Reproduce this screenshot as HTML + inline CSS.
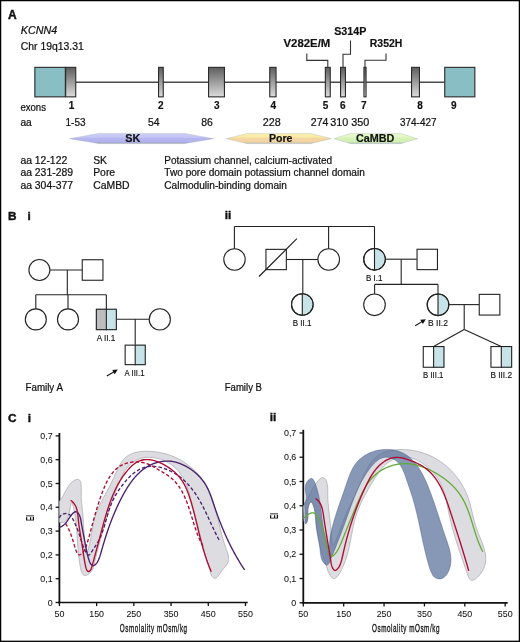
<!DOCTYPE html><html><head><meta charset="utf-8"><style>html,body{margin:0;padding:0;background:#fff;}body{position:relative;width:520px;height:642px;overflow:hidden;}svg{display:block;}</style></head><body>
<svg width="520" height="642" viewBox="0 0 520 642" font-family='"Liberation Sans", sans-serif'>
<defs><linearGradient id="gx" x1="0" y1="0" x2="0" y2="1"><stop offset="0" stop-color="#5e5e5e"/><stop offset="1" stop-color="#dcdcdc"/></linearGradient><linearGradient id="gsk" x1="0" y1="0" x2="0" y2="1"><stop offset="0" stop-color="#cbcbf7"/><stop offset="0.38" stop-color="#c6c6f6"/><stop offset="0.45" stop-color="#b6b6f0"/><stop offset="0.85" stop-color="#b2b2ee"/><stop offset="1" stop-color="#8e98ac"/></linearGradient><linearGradient id="gpo" x1="0" y1="0" x2="0" y2="1"><stop offset="0" stop-color="#f9efb0"/><stop offset="0.38" stop-color="#f9eaa6"/><stop offset="0.45" stop-color="#f4d8a4"/><stop offset="0.85" stop-color="#f2d2a2"/><stop offset="1" stop-color="#aab0b0"/></linearGradient><linearGradient id="gca" x1="0" y1="0" x2="0" y2="1"><stop offset="0" stop-color="#e6f8cc"/><stop offset="0.38" stop-color="#e2f7c4"/><stop offset="0.45" stop-color="#d6f2b8"/><stop offset="0.85" stop-color="#d2f0b4"/><stop offset="1" stop-color="#9aaab0"/></linearGradient></defs>
<rect x="0" y="0" width="520" height="642" fill="#fff"/>
<rect x="0.6" y="0.6" width="518.8" height="640.7" fill="none" stroke="#000" stroke-width="1.3"/>
<line x1="76" y1="82.2" x2="444.5" y2="82.2" stroke="#4a4a4a" stroke-width="1.35"/>
<rect x="34.85" y="67.35" width="30.5" height="29.5" fill="#88bec4" stroke="#2a2a2a" stroke-width="1.1"/>
<rect x="65.65" y="67.35" width="10.1" height="29.5" fill="url(#gx)" stroke="#2a2a2a" stroke-width="1.1"/>
<rect x="158.55" y="67.35" width="4.7" height="29.5" fill="url(#gx)" stroke="#2a2a2a" stroke-width="1.1"/>
<rect x="208.55" y="67.35" width="15.9" height="29.5" fill="url(#gx)" stroke="#2a2a2a" stroke-width="1.1"/>
<rect x="269.75" y="67.35" width="6.3" height="29.5" fill="url(#gx)" stroke="#2a2a2a" stroke-width="1.1"/>
<rect x="325.35" y="67.35" width="4.9" height="29.5" fill="url(#gx)" stroke="#2a2a2a" stroke-width="1.1"/>
<rect x="340.55" y="67.35" width="4.9" height="29.5" fill="url(#gx)" stroke="#2a2a2a" stroke-width="1.1"/>
<rect x="363.95" y="67.35" width="2.1" height="29.5" fill="url(#gx)" stroke="#2a2a2a" stroke-width="1.1"/>
<rect x="411.55" y="67.35" width="7.9" height="29.5" fill="url(#gx)" stroke="#2a2a2a" stroke-width="1.1"/>
<rect x="444.75" y="67.35" width="30.1" height="29.5" fill="#88bec4" stroke="#2a2a2a" stroke-width="1.1"/>
<path d="M306.8,53.5V60.4H327.8V67" fill="none" stroke="#333" stroke-width="1.1"/>
<path d="M350.5,40.5V54.2H343V67" fill="none" stroke="#333" stroke-width="1.1"/>
<path d="M386,53.4V60.3H365V67" fill="none" stroke="#333" stroke-width="1.1"/>
<path d="M69.5,138.7L98.5,133.4L184.6,133.4L213.8,138.7L184.6,143.6L98.5,143.6Z" fill="url(#gsk)" stroke="none" stroke-width="0"/>
<path d="M69.5,138.7L98.5,133.4L184.6,133.4L213.8,138.7L184.6,143.6L98.5,143.6Z" fill="none" stroke="#9aa8a8" stroke-width="0.5" stroke-opacity="0.6"/>
<path d="M226.2,138.7L247,133.4L310.8,133.4L331.5,138.7L310.8,143.6L247,143.6Z" fill="url(#gpo)" stroke="none" stroke-width="0"/>
<path d="M226.2,138.7L247,133.4L310.8,133.4L331.5,138.7L310.8,143.6L247,143.6Z" fill="none" stroke="#9aa8a8" stroke-width="0.5" stroke-opacity="0.6"/>
<path d="M334,138.7L350.4,133.4L401,133.4L417.5,138.7L401,143.6L350.4,143.6Z" fill="url(#gca)" stroke="none" stroke-width="0"/>
<path d="M334,138.7L350.4,133.4L401,133.4L417.5,138.7L401,143.6L350.4,143.6Z" fill="none" stroke="#9aa8a8" stroke-width="0.5" stroke-opacity="0.6"/>
<line x1="49.9" y1="270" x2="82" y2="270" stroke="#222" stroke-width="1.1"/>
<line x1="67.3" y1="270" x2="67.3" y2="294.8" stroke="#222" stroke-width="1.1"/>
<line x1="35.8" y1="294.8" x2="106.3" y2="294.8" stroke="#222" stroke-width="1.1"/>
<line x1="35.8" y1="294.8" x2="35.8" y2="309" stroke="#222" stroke-width="1.1"/>
<line x1="68" y1="294.8" x2="68" y2="309" stroke="#222" stroke-width="1.1"/>
<circle cx="39.4" cy="270" r="10.5" fill="#fff" stroke="#222" stroke-width="1.1"/>
<rect x="82.25" y="259.75" width="20.7" height="20.5" fill="#fff" stroke="#222" stroke-width="1.1"/>
<circle cx="35.8" cy="319.4" r="10.5" fill="#fff" stroke="#222" stroke-width="1.1"/>
<circle cx="68" cy="319.4" r="10.5" fill="#fff" stroke="#222" stroke-width="1.1"/>
<rect x="95.8" y="308.7" width="10.55" height="21.5" fill="#bdbdbd"/>
<rect x="106.35" y="308.7" width="10.55" height="21.5" fill="#c8e3e7"/>
<rect x="96.35" y="309.25" width="20" height="20.4" fill="none" stroke="#222" stroke-width="1.1"/>
<line x1="106.35" y1="294.8" x2="106.35" y2="330.2" stroke="#222" stroke-width="1.1"/>
<line x1="116.9" y1="319.2" x2="149.2" y2="319.2" stroke="#222" stroke-width="1.1"/>
<line x1="135.2" y1="319.2" x2="135.2" y2="344.8" stroke="#222" stroke-width="1.1"/>
<circle cx="159.8" cy="319.4" r="10.6" fill="#fff" stroke="#222" stroke-width="1.1"/>
<rect x="124.6" y="344.6" width="10.6" height="20.6" fill="#fff"/>
<rect x="135.2" y="344.6" width="10.6" height="20.6" fill="#c8e3e7"/>
<rect x="125.15" y="345.15" width="20.1" height="19.5" fill="none" stroke="#222" stroke-width="1.1"/>
<line x1="135.2" y1="344.6" x2="135.2" y2="365.2" stroke="#222" stroke-width="1.1"/>
<line x1="106.8" y1="376" x2="115.05" y2="371.2" stroke="#111" stroke-width="1.1"/>
<path d="M117.8,369.6L114.74,374.28L112.22,369.95Z" fill="#111"/>
<line x1="234.4" y1="226.5" x2="374.6" y2="226.5" stroke="#222" stroke-width="1.1"/>
<line x1="234.4" y1="226.5" x2="234.4" y2="249" stroke="#222" stroke-width="1.1"/>
<line x1="328.6" y1="226.5" x2="328.6" y2="249" stroke="#222" stroke-width="1.1"/>
<circle cx="234.5" cy="259.5" r="10.7" fill="#fff" stroke="#222" stroke-width="1.1"/>
<rect x="265.95" y="249.35" width="20.4" height="20.3" fill="#fff" stroke="#222" stroke-width="1.1"/>
<line x1="259" y1="276.5" x2="296.9" y2="238.7" stroke="#222" stroke-width="1.2"/>
<line x1="286.9" y1="259.5" x2="318" y2="259.5" stroke="#222" stroke-width="1.1"/>
<line x1="302.8" y1="259.5" x2="302.8" y2="294" stroke="#222" stroke-width="1.1"/>
<circle cx="328.7" cy="259.5" r="10.8" fill="#fff" stroke="#222" stroke-width="1.1"/>
<circle cx="302.3" cy="304.5" r="10.8" fill="#fff" stroke="#222" stroke-width="1.1"/>
<path d="M302.3,294.2A10.3,10.3 0 0 1 302.3,314.8Z" fill="#c8e3e7"/>
<circle cx="302.3" cy="304.5" r="10.8" fill="none" stroke="#222" stroke-width="1.1"/>
<line x1="302.3" y1="293.7" x2="302.3" y2="315.3" stroke="#222" stroke-width="1.1"/>
<circle cx="374.5" cy="259.3" r="10.8" fill="#fff" stroke="#222" stroke-width="1.1"/>
<path d="M374.5,249A10.3,10.3 0 0 1 374.5,269.6Z" fill="#c8e3e7"/>
<circle cx="374.5" cy="259.3" r="10.8" fill="none" stroke="#222" stroke-width="1.1"/>
<line x1="374.5" y1="226.5" x2="374.5" y2="270.1" stroke="#222" stroke-width="1.1"/>
<line x1="385.3" y1="259.2" x2="416.8" y2="259.2" stroke="#222" stroke-width="1.1"/>
<rect x="417.05" y="249.25" width="20.4" height="20.4" fill="#fff" stroke="#222" stroke-width="1.1"/>
<line x1="401.2" y1="259.2" x2="401.2" y2="284.4" stroke="#222" stroke-width="1.1"/>
<line x1="374.6" y1="284.4" x2="438" y2="284.4" stroke="#222" stroke-width="1.1"/>
<line x1="374.6" y1="284.4" x2="374.6" y2="294.2" stroke="#222" stroke-width="1.1"/>
<circle cx="374.5" cy="304.8" r="10.8" fill="#fff" stroke="#222" stroke-width="1.1"/>
<circle cx="438" cy="304.8" r="10.8" fill="#fff" stroke="#222" stroke-width="1.1"/>
<path d="M438,294.5A10.3,10.3 0 0 1 438,315.1Z" fill="#c8e3e7"/>
<circle cx="438" cy="304.8" r="10.8" fill="none" stroke="#222" stroke-width="1.1"/>
<line x1="438" y1="284.4" x2="438" y2="315.6" stroke="#222" stroke-width="1.1"/>
<line x1="448.6" y1="304.6" x2="479" y2="304.6" stroke="#222" stroke-width="1.1"/>
<rect x="479.25" y="294.35" width="20.6" height="20.7" fill="#fff" stroke="#222" stroke-width="1.1"/>
<line x1="464.2" y1="304.6" x2="464.2" y2="329.6" stroke="#222" stroke-width="1.1"/>
<line x1="464.2" y1="329.6" x2="433.6" y2="346.4" stroke="#222" stroke-width="1.1"/>
<line x1="464.2" y1="329.6" x2="501.2" y2="346.4" stroke="#222" stroke-width="1.1"/>
<rect x="422.7" y="346" width="10.9" height="21.8" fill="#fff"/>
<rect x="433.6" y="346" width="10.9" height="21.8" fill="#c8e3e7"/>
<rect x="423.25" y="346.55" width="20.7" height="20.7" fill="none" stroke="#222" stroke-width="1.1"/>
<line x1="433.6" y1="346" x2="433.6" y2="367.8" stroke="#222" stroke-width="1.1"/>
<rect x="490.4" y="346" width="10.9" height="21.8" fill="#fff"/>
<rect x="501.3" y="346" width="10.9" height="21.8" fill="#c8e3e7"/>
<rect x="490.95" y="346.55" width="20.7" height="20.7" fill="none" stroke="#222" stroke-width="1.1"/>
<line x1="501.3" y1="346" x2="501.3" y2="367.8" stroke="#222" stroke-width="1.1"/>
<line x1="415.2" y1="325.8" x2="423.15" y2="320.85" stroke="#111" stroke-width="1.1"/>
<path d="M425.8,319.2L422.88,323.97L420.23,319.72Z" fill="#111"/>
<line x1="59.4" y1="433" x2="59.4" y2="603.4" stroke="#111" stroke-width="1.8"/>
<line x1="58.5" y1="602.5" x2="247.7" y2="602.5" stroke="#111" stroke-width="1.7"/>
<line x1="55.6" y1="602.5" x2="59.4" y2="602.5" stroke="#111" stroke-width="1.3"/>
<line x1="55.6" y1="578.7" x2="59.4" y2="578.7" stroke="#111" stroke-width="1.3"/>
<line x1="55.6" y1="554.9" x2="59.4" y2="554.9" stroke="#111" stroke-width="1.3"/>
<line x1="55.6" y1="531.1" x2="59.4" y2="531.1" stroke="#111" stroke-width="1.3"/>
<line x1="55.6" y1="507.3" x2="59.4" y2="507.3" stroke="#111" stroke-width="1.3"/>
<line x1="55.6" y1="483.5" x2="59.4" y2="483.5" stroke="#111" stroke-width="1.3"/>
<line x1="55.6" y1="459.7" x2="59.4" y2="459.7" stroke="#111" stroke-width="1.3"/>
<line x1="55.6" y1="435.9" x2="59.4" y2="435.9" stroke="#111" stroke-width="1.3"/>
<line x1="59.4" y1="602.5" x2="59.4" y2="606.1" stroke="#111" stroke-width="1.3"/>
<line x1="96.62" y1="602.5" x2="96.62" y2="606.1" stroke="#111" stroke-width="1.3"/>
<line x1="133.84" y1="602.5" x2="133.84" y2="606.1" stroke="#111" stroke-width="1.3"/>
<line x1="171.06" y1="602.5" x2="171.06" y2="606.1" stroke="#111" stroke-width="1.3"/>
<line x1="208.28" y1="602.5" x2="208.28" y2="606.1" stroke="#111" stroke-width="1.3"/>
<line x1="245.5" y1="602.5" x2="245.5" y2="606.1" stroke="#111" stroke-width="1.3"/>
<line x1="303.3" y1="429.8" x2="303.3" y2="603.7" stroke="#111" stroke-width="1.8"/>
<line x1="302.4" y1="602.8" x2="507.7" y2="602.8" stroke="#111" stroke-width="1.7"/>
<line x1="299.5" y1="602.8" x2="303.3" y2="602.8" stroke="#111" stroke-width="1.3"/>
<line x1="299.5" y1="578.54" x2="303.3" y2="578.54" stroke="#111" stroke-width="1.3"/>
<line x1="299.5" y1="554.28" x2="303.3" y2="554.28" stroke="#111" stroke-width="1.3"/>
<line x1="299.5" y1="530.02" x2="303.3" y2="530.02" stroke="#111" stroke-width="1.3"/>
<line x1="299.5" y1="505.76" x2="303.3" y2="505.76" stroke="#111" stroke-width="1.3"/>
<line x1="299.5" y1="481.5" x2="303.3" y2="481.5" stroke="#111" stroke-width="1.3"/>
<line x1="299.5" y1="457.24" x2="303.3" y2="457.24" stroke="#111" stroke-width="1.3"/>
<line x1="299.5" y1="432.98" x2="303.3" y2="432.98" stroke="#111" stroke-width="1.3"/>
<line x1="303.3" y1="602.8" x2="303.3" y2="606.4" stroke="#111" stroke-width="1.3"/>
<line x1="343.68" y1="602.8" x2="343.68" y2="606.4" stroke="#111" stroke-width="1.3"/>
<line x1="384.06" y1="602.8" x2="384.06" y2="606.4" stroke="#111" stroke-width="1.3"/>
<line x1="424.44" y1="602.8" x2="424.44" y2="606.4" stroke="#111" stroke-width="1.3"/>
<line x1="464.82" y1="602.8" x2="464.82" y2="606.4" stroke="#111" stroke-width="1.3"/>
<line x1="505.2" y1="602.8" x2="505.2" y2="606.4" stroke="#111" stroke-width="1.3"/>
<path d="M59.35,501.31L60.02,500.51L60.68,499.64L61.31,498.71L61.93,497.73L62.54,496.7L63.14,495.63L63.74,494.53L64.34,493.41L64.94,492.28L65.56,491.14L66.18,490.01L66.82,488.89L67.47,487.79L68.16,486.71L68.86,485.68L69.6,484.68L70.37,483.74L71.18,482.86L72.03,482.05L72.93,481.32L73.87,480.67L74.86,480.12L75.85,479.7L76.82,479.44L77.73,479.35L78.54,479.48L79.23,479.83L79.8,480.42L80.25,481.2L80.6,482.16L80.86,483.28L81.05,484.52L81.17,485.87L81.24,487.3L81.26,488.79L81.26,490.31L81.25,491.83L81.23,493.35L81.22,494.82L81.23,496.23L81.26,497.57L81.31,498.86L81.38,500.1L81.47,501.29L81.56,502.45L81.67,503.57L81.79,504.68L81.92,505.77L82.04,506.86L82.17,507.95L82.3,509.05L82.42,510.16L82.54,511.3L82.65,512.45L82.76,513.62L82.86,514.81L82.96,516.02L83.05,517.23L83.14,518.46L83.23,519.69L83.32,520.93L83.41,522.18L83.49,523.42L83.58,524.67L83.66,525.92L83.75,527.16L83.83,528.4L83.91,529.64L84,530.86L84.08,532.08L84.16,533.29L84.24,534.48L84.32,535.67L84.39,536.84L84.47,537.99L84.55,539.12L84.62,540.24L84.69,541.34L84.77,542.45L84.86,543.58L84.96,544.75L85.09,545.99L85.25,547.3L85.44,548.72L85.66,550.24L85.94,551.69L86.25,552.78L86.6,553.25L86.98,552.88L87.39,551.88L87.8,550.55L88.19,549.21L88.56,547.94L88.9,546.72L89.23,545.54L89.53,544.35L89.81,543.17L90.07,541.99L90.32,540.82L90.55,539.64L90.77,538.46L90.98,537.29L91.18,536.11L91.38,534.94L91.57,533.77L91.75,532.59L91.94,531.42L92.13,530.25L92.32,529.08L92.52,527.91L92.72,526.74L92.93,525.57L93.15,524.4L93.39,523.23L93.63,522.06L93.9,520.89L94.18,519.73L94.48,518.56L94.81,517.39L95.15,516.22L95.53,515.05L95.93,513.88L96.35,512.72L96.8,511.55L97.27,510.4L97.75,509.25L98.25,508.1L98.76,506.97L99.28,505.86L99.8,504.75L100.34,503.67L100.87,502.59L101.42,501.53L101.96,500.48L102.51,499.43L103.06,498.4L103.62,497.37L104.17,496.35L104.73,495.33L105.29,494.31L105.85,493.29L106.4,492.27L106.96,491.25L107.52,490.23L108.07,489.2L108.63,488.17L109.18,487.13L109.72,486.08L110.27,485.02L110.8,483.95L111.34,482.87L111.87,481.77L112.39,480.65L112.91,479.52L113.42,478.38L113.93,477.22L114.44,476.06L114.96,474.89L115.47,473.73L115.99,472.56L116.52,471.4L117.06,470.25L117.61,469.1L118.17,467.97L118.75,466.86L119.35,465.77L119.96,464.7L120.59,463.66L121.25,462.64L121.93,461.66L122.64,460.71L123.38,459.81L124.14,458.94L124.94,458.11L125.77,457.34L126.64,456.61L127.55,455.94L128.49,455.32L129.47,454.75L130.48,454.23L131.52,453.76L132.6,453.34L133.69,452.97L134.82,452.63L135.96,452.34L137.12,452.08L138.31,451.87L139.5,451.69L140.71,451.54L141.94,451.43L143.17,451.35L144.4,451.29L145.65,451.27L146.89,451.27L148.13,451.29L149.37,451.33L150.61,451.4L151.84,451.48L153.07,451.58L154.29,451.7L155.5,451.84L156.71,452L157.91,452.18L159.11,452.38L160.3,452.6L161.48,452.84L162.65,453.1L163.83,453.38L164.99,453.68L166.15,454L167.3,454.34L168.44,454.7L169.58,455.09L170.71,455.49L171.83,455.92L172.94,456.36L174.05,456.83L175.15,457.31L176.24,457.82L177.32,458.35L178.39,458.89L179.46,459.46L180.51,460.04L181.55,460.64L182.58,461.26L183.61,461.9L184.62,462.55L185.61,463.22L186.6,463.91L187.57,464.62L188.54,465.34L189.48,466.08L190.42,466.84L191.34,467.61L192.25,468.39L193.14,469.2L194.02,470.01L194.88,470.84L195.73,471.69L196.57,472.55L197.38,473.42L198.18,474.31L198.97,475.21L199.73,476.12L200.48,477.04L201.21,477.98L201.92,478.93L202.62,479.89L203.3,480.87L203.95,481.85L204.59,482.85L205.21,483.85L205.81,484.87L206.39,485.9L206.95,486.93L207.5,487.98L208.03,489.03L208.55,490.1L209.05,491.17L209.53,492.25L210,493.34L210.46,494.44L210.9,495.54L211.34,496.66L211.75,497.78L212.16,498.9L212.56,500.03L212.94,501.17L213.32,502.32L213.69,503.46L214.05,504.62L214.39,505.78L214.74,506.94L215.07,508.11L215.4,509.28L215.72,510.46L216.04,511.64L216.35,512.82L216.65,514.01L216.96,515.2L217.25,516.39L217.55,517.58L217.84,518.78L218.14,519.97L218.43,521.17L218.72,522.37L219,523.57L219.29,524.77L219.58,525.97L219.88,527.16L220.17,528.36L220.47,529.56L220.77,530.76L221.07,531.95L221.37,533.14L221.69,534.34L222,535.52L222.32,536.71L222.65,537.89L222.99,539.07L223.33,540.25L223.68,541.42L224.04,542.59L224.41,543.76L224.78,544.92L225.17,546.07L225.57,547.22L225.98,548.37L226.39,549.51L226.79,550.64L227.18,551.77L227.53,552.88L227.86,554L228.13,555.1L228.34,556.2L228.48,557.29L228.55,558.37L228.53,559.44L228.4,560.51L228.17,561.56L227.81,562.6L227.32,563.64L226.71,564.66L225.98,565.69L225.17,566.72L224.3,567.76L223.4,568.82L222.49,569.91L221.61,571.04L220.77,572.2L219.97,573.37L219.2,574.5L218.46,575.56L217.73,576.5L217,577.29L216.27,577.89L215.53,578.25L214.76,578.34L213.96,578.12L213.13,577.54L212.24,576.58L211.29,575.18L211.37,575.15L211,573.98L210.63,572.82L210.27,571.66L209.91,570.5L209.55,569.34L209.2,568.18L208.84,567.02L208.5,565.86L208.15,564.7L207.81,563.54L207.47,562.38L207.14,561.22L206.8,560.07L206.47,558.91L206.14,557.75L205.82,556.59L205.49,555.43L205.17,554.27L204.85,553.11L204.54,551.95L204.22,550.79L203.91,549.64L203.6,548.48L203.29,547.32L202.98,546.16L202.67,545L202.37,543.84L202.06,542.68L201.76,541.52L201.46,540.36L201.16,539.2L200.86,538.04L200.56,536.88L200.26,535.72L199.96,534.56L199.67,533.4L199.37,532.23L199.07,531.07L198.78,529.91L198.48,528.75L198.19,527.58L197.89,526.42L197.59,525.26L197.3,524.09L197,522.93L196.71,521.76L196.41,520.6L196.11,519.43L195.81,518.26L195.51,517.1L195.21,515.93L194.91,514.76L194.61,513.59L194.31,512.42L194,511.25L193.7,510.08L193.39,508.91L193.08,507.74L192.77,506.57L192.46,505.39L192.15,504.22L191.83,503.05L191.52,501.87L191.2,500.69L190.87,499.52L190.55,498.34L190.22,497.16L189.89,495.99L189.55,494.81L189.2,493.64L188.85,492.48L188.49,491.31L188.12,490.16L187.73,489.01L187.34,487.86L186.93,486.73L186.51,485.6L186.07,484.49L185.61,483.38L185.14,482.29L184.65,481.21L184.14,480.14L183.61,479.08L183.06,478.04L182.49,477.02L181.89,476.01L181.27,475.02L180.62,474.04L179.95,473.09L179.25,472.16L178.52,471.24L177.75,470.35L176.96,469.48L176.14,468.64L175.28,467.82L174.39,467.02L173.47,466.25L172.52,465.5L171.54,464.79L170.53,464.1L169.5,463.44L168.45,462.81L167.37,462.21L166.27,461.64L165.15,461.1L164.02,460.59L162.87,460.12L161.71,459.69L160.54,459.28L159.36,458.92L158.16,458.59L156.97,458.3L155.76,458.05L154.55,457.83L153.35,457.66L152.14,457.52L150.93,457.43L149.72,457.38L148.52,457.37L147.33,457.41L146.15,457.49L144.97,457.61L143.81,457.79L142.66,458L141.52,458.27L140.4,458.58L139.3,458.93L138.22,459.33L137.16,459.78L136.12,460.27L135.1,460.8L134.11,461.37L133.15,461.99L132.21,462.65L131.3,463.36L130.43,464.1L129.59,464.89L128.78,465.71L128.01,466.58L127.26,467.48L126.54,468.42L125.85,469.38L125.19,470.38L124.54,471.4L123.93,472.44L123.33,473.51L122.75,474.6L122.19,475.7L121.65,476.82L121.13,477.96L120.61,479.1L120.11,480.26L119.63,481.41L119.15,482.58L118.68,483.74L118.21,484.91L117.76,486.07L117.3,487.23L116.85,488.39L116.41,489.54L115.97,490.69L115.54,491.84L115.11,492.99L114.69,494.14L114.27,495.28L113.86,496.42L113.45,497.56L113.04,498.7L112.64,499.84L112.24,500.98L111.85,502.11L111.46,503.25L111.08,504.38L110.69,505.51L110.31,506.65L109.94,507.78L109.57,508.91L109.2,510.04L108.83,511.17L108.47,512.3L108.11,513.43L107.76,514.56L107.4,515.69L107.05,516.82L106.71,517.95L106.36,519.08L106.02,520.22L105.68,521.35L105.34,522.49L105,523.62L104.67,524.76L104.33,525.9L104,527.03L103.67,528.18L103.35,529.32L103.02,530.46L102.7,531.61L102.37,532.76L102.05,533.91L101.73,535.06L101.41,536.21L101.09,537.37L100.77,538.53L100.46,539.69L100.14,540.86L99.82,542.03L99.51,543.2L99.19,544.37L98.88,545.55L98.56,546.73L98.25,547.92L97.93,549.1L97.62,550.3L97.31,551.49L97,552.68L96.69,553.88L96.39,555.08L96.09,556.27L95.8,557.47L95.52,558.66L95.24,559.85L94.98,561.04L94.72,562.23L94.47,563.41L94.21,564.58L93.92,565.75L93.59,566.89L93.19,568.02L92.71,569.13L92.13,570.21L91.43,571.26L90.59,572.27L89.61,573.24L88.54,574.1L87.45,574.81L86.41,575.3L85.46,575.52L84.62,575.48L83.88,575.21L83.23,574.73L82.66,574.07L82.16,573.24L81.72,572.27L81.34,571.19L81.01,570.02L80.71,568.79L80.45,567.51L80.21,566.21L79.98,564.92L79.77,563.63L79.56,562.35L79.37,561.07L79.19,559.8L79.02,558.53L78.86,557.27L78.71,556.02L78.57,554.77L78.44,553.52L78.32,552.28L78.2,551.05L78.09,549.82L77.98,548.59L77.88,547.37L77.79,546.15L77.69,544.93L77.61,543.72L77.52,542.51L77.44,541.31L77.36,540.11L77.28,538.91L77.2,537.72L77.12,536.52L77.04,535.33L76.96,534.15L76.88,532.96L76.8,531.78L76.71,530.6L76.62,529.42L76.52,528.25L76.42,527.07L76.32,525.9L76.21,524.73L76.09,523.56L75.97,522.39L75.84,521.22L75.7,520.05L75.55,518.88L75.39,517.71L75.23,516.55L75.05,515.38L74.86,514.21L74.66,513.05L74.45,511.88L74.22,510.71L73.99,509.55L73.73,508.38L73.47,507.21L73.18,506.04L72.89,504.87L72.57,503.7L72.24,502.75L71.89,502.41L71.53,502.81L71.17,503.72L70.84,504.88L70.55,506.12L70.29,507.39L70.04,508.68L69.8,509.99L69.54,511.31L69.27,512.62L68.95,513.92L68.59,515.21L68.18,516.46L67.69,517.67L67.12,518.8L66.48,519.83L65.76,520.75L64.95,521.51L64.04,522.11L63.03,522.51L61.92,522.68L60.7,522.61L59.36,522.27Z" fill="#dddde1" stroke="#a4a4a8" stroke-width="0.7"/>
<path d="M59.41,518.03L59.84,516.79L60.52,515.74L61.4,514.9L62.44,514.25L63.59,513.81L64.8,513.57L66.03,513.52L67.22,513.68L68.34,514.04L69.34,514.59L70.22,515.31L71,516.17L71.71,517.15L72.35,518.2L72.95,519.29L73.52,520.41L74.07,521.52L74.6,522.64L75.12,523.75L75.61,524.86L76.1,525.98L76.56,527.09L77.02,528.21L77.45,529.32L77.88,530.44L78.29,531.56L78.7,532.68L79.09,533.8L79.47,534.92L79.84,536.05L80.21,537.18L80.56,538.31L80.91,539.45L81.27,540.59L81.62,541.73L81.99,542.87L82.38,544.02L82.78,545.17L83.22,546.33L83.68,547.48L84.19,548.64L84.73,549.81L85.32,550.97L85.97,552.14L86.66,553.26L87.39,554.2L88.13,554.86L88.87,555.09L89.59,554.77L90.29,553.97L90.98,552.91L91.66,551.82L92.35,550.75L93.03,549.7L93.71,548.66L94.38,547.63L95.04,546.61L95.69,545.6L96.33,544.58L96.95,543.57L97.55,542.54L98.14,541.51L98.71,540.47L99.25,539.41L99.77,538.33L100.27,537.24L100.75,536.14L101.22,535.03L101.67,533.9L102.1,532.77L102.52,531.62L102.92,530.47L103.31,529.31L103.69,528.14L104.07,526.97L104.43,525.8L104.79,524.62L105.14,523.43L105.48,522.25L105.82,521.06L106.16,519.88L106.5,518.69L106.84,517.51L107.18,516.33L107.52,515.16L107.86,513.98L108.21,512.82L108.56,511.66L108.93,510.51L109.3,509.37L109.68,508.24L110.06,507.11L110.47,506L110.88,504.91L111.31,503.82L111.75,502.75L112.21,501.69L112.69,500.65L113.19,499.63L113.7,498.62L114.23,497.62L114.78,496.63L115.35,495.65L115.94,494.67L116.54,493.69L117.16,492.71L117.8,491.72L118.46,490.73L119.13,489.73L119.81,488.73L120.52,487.73L121.24,486.72L121.97,485.72L122.73,484.73L123.49,483.74L124.28,482.75L125.08,481.78L125.89,480.82L126.72,479.88L127.57,478.95L128.43,478.03L129.3,477.14L130.2,476.27L131.1,475.42L132.02,474.6L132.96,473.81L133.91,473.04L134.88,472.31L135.86,471.61L136.85,470.95L137.86,470.32L138.88,469.73L139.92,469.19L140.97,468.68L142.04,468.23L143.12,467.81L144.21,467.45L145.32,467.14L146.44,466.88L147.57,466.67L148.72,466.52L149.87,466.41L151.03,466.35L152.2,466.33L153.37,466.36L154.55,466.43L155.74,466.55L156.92,466.71L158.1,466.9L159.29,467.13L160.47,467.4L161.65,467.71L162.82,468.05L163.99,468.42L165.15,468.82L166.3,469.25L167.45,469.71L168.58,470.2L169.7,470.71L170.81,471.25L171.9,471.81L172.98,472.4L174.05,473.01L175.1,473.64L176.14,474.29L177.16,474.96L178.16,475.66L179.15,476.37L180.12,477.09L181.06,477.84L182,478.6L182.91,479.38L183.81,480.18L184.68,480.98L185.55,481.81L186.39,482.65L187.22,483.5L188.03,484.37L188.83,485.25L189.62,486.14L190.39,487.05L191.14,487.97L191.88,488.9L192.61,489.84L193.32,490.79L194.02,491.75L194.71,492.72L195.39,493.71L196.05,494.7L196.71,495.7L197.35,496.71L197.98,497.73L198.6,498.75L199.21,499.78L199.82,500.82L200.41,501.87L200.99,502.92L201.57,503.98L202.14,505.04L202.7,506.11L203.25,507.18L203.8,508.26L204.34,509.34L204.88,510.42L205.41,511.51L205.93,512.6L206.46,513.7L206.97,514.79L207.49,515.89L208,516.99L208.51,518.09L209.02,519.19L209.53,520.29L210.04,521.39L210.54,522.5L211.05,523.6L211.56,524.7L212.07,525.79L212.58,526.89L213.09,527.99L213.6,529.08L214.12,530.17L214.64,531.25L215.17,532.34L215.7,533.42L216.23,534.49L216.77,535.56L217.32,536.63L217.87,537.69L218.43,538.74L219,539.79L219.57,540.84" fill="none" stroke="#4a1f6e" stroke-width="1.35" stroke-dasharray="3.5 2.1"/>
<path d="M65.6,523.5L66.23,524.52L66.84,525.56L67.42,526.62L67.98,527.7L68.51,528.79L69.02,529.9L69.52,531.02L69.99,532.15L70.44,533.28L70.87,534.41L71.28,535.55L71.68,536.67L72.05,537.8L72.41,538.91L72.76,540.02L73.09,541.11L73.42,542.2L73.75,543.32L74.09,544.46L74.46,545.66L74.85,546.92L75.28,548.26L75.76,549.69L76.3,551.14L76.88,552.49L77.53,553.65L78.23,554.49L78.99,554.9L79.8,554.88L80.62,554.53L81.41,553.97L82.16,553.31L82.85,552.55L83.49,551.7L84.09,550.78L84.64,549.78L85.16,548.73L85.65,547.62L86.11,546.47L86.54,545.28L86.94,544.06L87.33,542.81L87.7,541.56L88.06,540.3L88.42,539.05L88.76,537.8L89.1,536.56L89.44,535.34L89.77,534.12L90.1,532.91L90.43,531.7L90.75,530.51L91.07,529.32L91.39,528.14L91.71,526.96L92.02,525.79L92.33,524.63L92.65,523.47L92.96,522.32L93.27,521.17L93.58,520.03L93.9,518.89L94.21,517.75L94.52,516.61L94.84,515.48L95.16,514.35L95.48,513.22L95.81,512.1L96.14,510.97L96.47,509.84L96.8,508.72L97.14,507.6L97.49,506.47L97.84,505.34L98.19,504.22L98.56,503.09L98.92,501.96L99.3,500.82L99.68,499.69L100.07,498.55L100.47,497.4L100.87,496.26L101.28,495.11L101.71,493.95L102.14,492.79L102.58,491.63L103.03,490.46L103.49,489.3L103.97,488.13L104.46,486.97L104.96,485.82L105.48,484.67L106.02,483.53L106.57,482.41L107.14,481.29L107.72,480.19L108.33,479.11L108.95,478.05L109.6,477L110.26,475.98L110.95,474.98L111.66,474L112.4,473.05L113.16,472.13L113.95,471.24L114.76,470.39L115.6,469.56L116.46,468.77L117.36,468.02L118.28,467.31L119.24,466.64L120.23,466.02L121.24,465.43L122.29,464.9L123.36,464.4L124.46,463.95L125.58,463.55L126.71,463.18L127.87,462.86L129.04,462.59L130.23,462.36L131.42,462.17L132.63,462.03L133.84,461.93L135.05,461.88L136.27,461.87L137.49,461.9L138.7,461.97L139.91,462.09L141.12,462.26L142.31,462.46L143.5,462.71L144.66,463.01L145.82,463.34L146.95,463.73L148.07,464.15L149.18,464.61L150.27,465.1L151.34,465.62L152.41,466.17L153.47,466.75L154.53,467.34L155.58,467.95L156.64,468.58L157.69,469.21L158.75,469.85L159.81,470.49L160.88,471.12L161.95,471.76L163.02,472.4L164.08,473.05L165.14,473.71L166.19,474.38L167.22,475.06L168.24,475.75L169.23,476.47L170.19,477.2L171.13,477.96L172.03,478.74L172.91,479.54L173.76,480.37L174.59,481.21L175.38,482.07L176.16,482.96L176.9,483.86L177.63,484.78L178.33,485.72L179.01,486.67L179.67,487.65L180.3,488.63L180.92,489.64L181.52,490.65L182.09,491.69L182.66,492.73L183.2,493.79L183.73,494.86L184.24,495.94L184.74,497.03L185.22,498.13L185.69,499.25L186.15,500.37L186.6,501.5L187.03,502.63L187.46,503.78L187.88,504.93L188.28,506.09L188.68,507.25L189.07,508.42L189.46,509.6L189.84,510.77L190.22,511.95L190.59,513.13L190.96,514.32L191.32,515.5L191.69,516.69L192.05,517.88L192.41,519.06L192.77,520.25L193.14,521.43L193.5,522.61L193.87,523.79L194.24,524.96L194.62,526.13L195,527.29L195.39,528.45L195.78,529.61L196.18,530.75L196.59,531.89L197,533.03L197.43,534.15L197.87,535.26L198.31,536.37L198.77,537.46L199.24,538.55L199.73,539.62L200.23,540.68L200.74,541.73L201.27,542.76L201.82,543.78L202.38,544.79L202.96,545.78" fill="none" stroke="#b00a32" stroke-width="1.35" stroke-dasharray="3.5 2.1"/>
<path d="M59.33,527.45L60.65,526.89L61.81,526.3L62.83,525.68L63.73,525.02L64.54,524.32L65.28,523.56L65.98,522.74L66.64,521.85L67.31,520.9L68,519.86L68.74,518.73L69.52,517.56L70.33,516.37L71.18,515.23L72.05,514.17L72.92,513.25L73.81,512.5L74.69,511.99L75.55,511.74L76.4,511.82L77.22,512.25L77.99,512.97L78.69,513.9L79.31,514.98L79.82,516.14L80.22,517.32L80.53,518.52L80.78,519.72L80.99,520.93L81.2,522.14L81.4,523.35L81.61,524.56L81.82,525.78L82.04,526.99L82.26,528.2L82.49,529.41L82.71,530.61L82.94,531.82L83.17,533.01L83.4,534.21L83.63,535.39L83.86,536.58L84.09,537.75L84.31,538.92L84.54,540.08L84.76,541.23L84.98,542.37L85.19,543.5L85.4,544.63L85.61,545.74L85.82,546.84L86.03,547.95L86.24,549.06L86.47,550.19L86.71,551.34L86.97,552.51L87.24,553.72L87.55,554.96L87.88,556.25L88.25,557.59L88.65,558.97L89.09,560.36L89.58,561.68L90.11,562.91L90.7,563.97L91.34,564.81L92.05,565.39L92.82,565.65L93.64,565.55L94.49,565.17L95.29,564.61L96.02,563.91L96.7,563.09L97.33,562.16L97.91,561.15L98.44,560.05L98.94,558.88L99.4,557.66L99.84,556.41L100.25,555.12L100.63,553.83L101.01,552.54L101.37,551.26L101.73,550.02L102.07,548.79L102.42,547.59L102.76,546.42L103.1,545.25L103.44,544.1L103.78,542.96L104.13,541.83L104.47,540.7L104.82,539.57L105.17,538.45L105.53,537.32L105.89,536.19L106.25,535.07L106.61,533.95L106.99,532.82L107.36,531.7L107.74,530.58L108.12,529.46L108.51,528.34L108.91,527.23L109.3,526.11L109.71,525L110.11,523.88L110.53,522.77L110.94,521.66L111.37,520.55L111.8,519.44L112.23,518.33L112.67,517.23L113.12,516.12L113.57,515.02L114.03,513.92L114.49,512.81L114.96,511.71L115.44,510.61L115.92,509.52L116.41,508.42L116.91,507.33L117.41,506.23L117.92,505.14L118.44,504.05L118.96,502.96L119.5,501.87L120.04,500.78L120.58,499.7L121.14,498.61L121.7,497.53L122.27,496.45L122.85,495.37L123.44,494.29L124.03,493.22L124.64,492.15L125.25,491.09L125.87,490.03L126.51,488.98L127.15,487.94L127.81,486.9L128.47,485.88L129.15,484.86L129.84,483.85L130.54,482.86L131.26,481.88L131.98,480.91L132.72,479.95L133.47,479.01L134.24,478.08L135.02,477.17L135.82,476.28L136.62,475.4L137.45,474.54L138.29,473.7L139.14,472.88L140.01,472.09L140.9,471.31L141.8,470.55L142.72,469.82L143.66,469.11L144.62,468.43L145.59,467.77L146.58,467.13L147.59,466.53L148.62,465.95L149.67,465.4L150.73,464.87L151.82,464.38L152.92,463.92L154.05,463.49L155.18,463.09L156.33,462.73L157.5,462.4L158.67,462.11L159.86,461.85L161.05,461.63L162.25,461.44L163.46,461.3L164.66,461.19L165.88,461.13L167.09,461.1L168.3,461.12L169.51,461.18L170.71,461.29L171.92,461.44L173.11,461.63L174.3,461.86L175.49,462.14L176.66,462.45L177.83,462.79L178.99,463.17L180.13,463.59L181.27,464.04L182.4,464.52L183.51,465.03L184.61,465.56L185.7,466.13L186.77,466.72L187.82,467.33L188.86,467.97L189.89,468.62L190.89,469.3L191.88,470L192.85,470.72L193.8,471.46L194.73,472.21L195.64,472.99L196.54,473.78L197.41,474.6L198.26,475.43L199.09,476.28L199.9,477.15L200.69,478.04L201.46,478.94L202.21,479.87L202.93,480.81L203.63,481.76L204.31,482.74L204.96,483.72L205.59,484.73L206.2,485.75L206.78,486.79L207.34,487.85L207.87,488.91L208.39,490L208.88,491.09L209.35,492.2L209.81,493.31L210.26,494.44L210.69,495.57L211.11,496.71L211.52,497.86L211.92,499.01L212.31,500.16L212.7,501.32L213.09,502.48L213.47,503.64L213.86,504.8L214.25,505.95L214.64,507.11L215.03,508.26L215.42,509.41L215.82,510.55L216.22,511.7L216.63,512.84L217.04,513.98L217.45,515.11L217.87,516.25L218.29,517.38L218.71,518.51L219.13,519.64L219.56,520.76L220,521.88L220.44,523L220.88,524.12L221.32,525.23L221.77,526.34L222.23,527.45L222.69,528.56L223.15,529.67L223.62,530.77L224.09,531.87L224.57,532.97L225.05,534.06L225.53,535.16L226.02,536.25L226.52,537.33L227.02,538.42L227.52,539.5L228.03,540.59L228.55,541.67L229.07,542.74L229.59,543.82L230.12,544.89L230.66,545.96L231.2,547.03L231.75,548.09L232.3,549.16L232.86,550.22L233.42,551.28L233.99,552.34L234.57,553.39L235.15,554.44L235.74,555.49L236.33,556.54L236.93,557.59L237.53,558.63L238.15,559.68L238.77,560.71L239.39,561.75L240.02,562.79L240.66,563.82L241.3,564.85L241.95,565.88L242.61,566.91L243.28,567.94L243.95,568.96L244.63,569.98" fill="none" stroke="#4a1f6e" stroke-width="1.35"/>
<path d="M70.57,500.32L71.6,501.05L72.53,501.84L73.35,502.68L74.09,503.57L74.74,504.51L75.31,505.49L75.81,506.51L76.24,507.57L76.61,508.66L76.93,509.78L77.2,510.93L77.43,512.1L77.63,513.29L77.79,514.49L77.94,515.71L78.07,516.93L78.19,518.16L78.31,519.4L78.43,520.63L78.57,521.86L78.71,523.08L78.86,524.3L79.02,525.52L79.18,526.73L79.35,527.94L79.53,529.15L79.71,530.35L79.9,531.55L80.09,532.74L80.28,533.94L80.48,535.13L80.67,536.31L80.87,537.5L81.07,538.68L81.27,539.85L81.46,541.03L81.66,542.2L81.85,543.37L82.04,544.54L82.23,545.71L82.41,546.87L82.59,548.03L82.76,549.19L82.92,550.35L83.09,551.52L83.26,552.69L83.42,553.86L83.6,555.04L83.77,556.24L83.96,557.44L84.15,558.67L84.36,559.9L84.58,561.16L84.81,562.44L85.06,563.74L85.33,565.07L85.63,566.42L85.95,567.74L86.33,568.97L86.78,570.02L87.31,570.83L87.92,571.34L88.6,571.5L89.29,571.32L89.94,570.82L90.52,570.07L91.02,569.11L91.46,567.99L91.86,566.77L92.23,565.48L92.58,564.17L92.93,562.87L93.28,561.6L93.62,560.34L93.95,559.1L94.29,557.87L94.62,556.65L94.95,555.45L95.27,554.26L95.6,553.08L95.92,551.91L96.23,550.75L96.55,549.59L96.86,548.44L97.18,547.3L97.49,546.15L97.79,545.02L98.1,543.88L98.41,542.74L98.71,541.6L99.02,540.46L99.32,539.32L99.62,538.17L99.93,537.03L100.23,535.87L100.53,534.72L100.84,533.56L101.14,532.41L101.44,531.25L101.75,530.09L102.06,528.92L102.37,527.76L102.68,526.59L102.99,525.43L103.31,524.26L103.63,523.09L103.95,521.93L104.27,520.76L104.6,519.59L104.93,518.43L105.27,517.26L105.61,516.1L105.95,514.93L106.3,513.77L106.66,512.61L107.01,511.45L107.38,510.29L107.75,509.14L108.13,507.99L108.51,506.84L108.9,505.69L109.29,504.55L109.69,503.4L110.1,502.27L110.52,501.13L110.94,500L111.37,498.88L111.81,497.75L112.26,496.64L112.72,495.52L113.19,494.42L113.66,493.31L114.15,492.22L114.64,491.12L115.15,490.04L115.67,488.95L116.19,487.88L116.73,486.81L117.29,485.74L117.85,484.69L118.43,483.64L119.02,482.59L119.63,481.55L120.25,480.52L120.89,479.5L121.54,478.48L122.21,477.47L122.89,476.46L123.59,475.47L124.31,474.48L125.05,473.5L125.8,472.53L126.58,471.56L127.37,470.61L128.18,469.66L129.01,468.74L129.86,467.83L130.73,466.96L131.61,466.11L132.52,465.29L133.45,464.52L134.4,463.79L135.36,463.1L136.35,462.47L137.36,461.89L138.38,461.37L139.43,460.92L140.5,460.53L141.59,460.22L142.69,459.97L143.82,459.78L144.95,459.66L146.1,459.61L147.26,459.61L148.43,459.66L149.61,459.78L150.79,459.94L151.98,460.15L153.16,460.41L154.35,460.72L155.54,461.07L156.73,461.46L157.91,461.89L159.08,462.36L160.25,462.86L161.4,463.4L162.54,463.96L163.68,464.55L164.79,465.17L165.89,465.81L166.97,466.48L168.03,467.16L169.06,467.85L170.08,468.57L171.07,469.29L172.03,470.03L172.97,470.79L173.88,471.56L174.77,472.34L175.64,473.14L176.48,473.96L177.29,474.79L178.08,475.64L178.85,476.51L179.6,477.39L180.32,478.3L181.01,479.22L181.69,480.16L182.34,481.13L182.96,482.11L183.56,483.12L184.14,484.14L184.7,485.19L185.24,486.25L185.76,487.33L186.26,488.43L186.74,489.54L187.2,490.66L187.65,491.79L188.08,492.94L188.5,494.09L188.91,495.25L189.31,496.42L189.69,497.59L190.07,498.77L190.43,499.94L190.79,501.12L191.14,502.3L191.49,503.48L191.83,504.66L192.16,505.83L192.49,507.01L192.81,508.18L193.13,509.36L193.45,510.53L193.76,511.71L194.06,512.88L194.36,514.06L194.66,515.23L194.96,516.4L195.25,517.57L195.54,518.74L195.83,519.92L196.12,521.09L196.4,522.25L196.68,523.42L196.97,524.59L197.25,525.76L197.53,526.93L197.81,528.09L198.09,529.26L198.37,530.42L198.66,531.59L198.94,532.75L199.22,533.91L199.51,535.08L199.8,536.24L200.09,537.4L200.38,538.56L200.68,539.72L200.98,540.87L201.28,542.03L201.59,543.19L201.9,544.34L202.22,545.5L202.54,546.65L202.86,547.8L203.19,548.96L203.53,550.11L203.87,551.26L204.22,552.41L204.57,553.56L204.93,554.7L205.3,555.85L205.68,557L206.06,558.14L206.45,559.28L206.85,560.43L207.26,561.57L207.67,562.71L208.1,563.85L208.54,564.99L208.98,566.12L209.44,567.26L209.9,568.39L210.38,569.53L210.86,570.66L211.36,571.79" fill="none" stroke="#b00a32" stroke-width="1.35"/>
<path d="M303.47,506.06L304.18,504.92L304.84,503.8L305.47,502.7L306.06,501.61L306.63,500.54L307.17,499.47L307.69,498.42L308.2,497.38L308.7,496.34L309.2,495.31L309.69,494.28L310.19,493.25L310.7,492.23L311.23,491.2L311.77,490.17L312.34,489.13L312.93,488.09L313.56,487.03L314.23,485.97L314.94,484.9L315.69,483.81L316.5,482.72L317.36,481.62L318.25,480.58L319.15,479.63L320.07,478.8L320.98,478.15L321.87,477.71L322.74,477.53L323.55,477.63L324.31,478.07L325,478.79L325.63,479.74L326.17,480.87L326.64,482.11L327.02,483.41L327.31,484.7L327.52,485.97L327.66,487.23L327.73,488.47L327.77,489.69L327.77,490.9L327.77,492.11L327.75,493.31L327.75,494.51L327.77,495.71L327.79,496.9L327.83,498.09L327.88,499.28L327.95,500.48L328.02,501.67L328.1,502.86L328.19,504.04L328.29,505.23L328.4,506.42L328.51,507.61L328.64,508.8L328.76,509.99L328.89,511.18L329.03,512.37L329.16,513.56L329.3,514.76L329.44,515.95L329.59,517.15L329.73,518.35L329.87,519.55L330.02,520.75L330.16,521.95L330.29,523.16L330.43,524.37L330.56,525.59L330.69,526.8L330.81,528.02L330.92,529.25L331.03,530.47L331.13,531.7L331.23,532.94L331.33,534.19L331.43,535.45L331.53,536.72L331.64,538.01L331.76,539.32L331.9,540.65L332.05,541.98L332.23,543.21L332.46,544.2L332.75,544.84L333.12,545.01L333.58,544.63L334.09,543.86L334.61,542.9L335.13,541.9L335.64,540.88L336.13,539.83L336.62,538.76L337.1,537.67L337.57,536.57L338.03,535.45L338.48,534.32L338.93,533.17L339.37,532.01L339.81,530.85L340.24,529.67L340.67,528.49L341.1,527.31L341.53,526.12L341.96,524.93L342.38,523.74L342.81,522.55L343.24,521.37L343.67,520.19L344.11,519.02L344.54,517.86L344.99,516.71L345.44,515.57L345.89,514.44L346.35,513.33L346.82,512.22L347.3,511.14L347.78,510.06L348.26,508.99L348.75,507.93L349.24,506.88L349.74,505.83L350.24,504.79L350.74,503.75L351.25,502.71L351.76,501.68L352.27,500.64L352.78,499.61L353.29,498.57L353.8,497.52L354.31,496.48L354.83,495.42L355.34,494.36L355.85,493.29L356.35,492.21L356.86,491.12L357.36,490.02L357.86,488.9L358.36,487.78L358.85,486.64L359.34,485.49L359.84,484.33L360.34,483.17L360.83,482L361.33,480.83L361.84,479.66L362.35,478.49L362.87,477.32L363.39,476.15L363.93,475L364.47,473.84L365.02,472.7L365.59,471.57L366.16,470.45L366.76,469.35L367.36,468.26L367.98,467.19L368.62,466.14L369.27,465.12L369.94,464.11L370.64,463.13L371.35,462.17L372.09,461.25L372.84,460.35L373.62,459.48L374.43,458.65L375.26,457.85L376.12,457.09L377,456.37L377.92,455.69L378.86,455.05L379.83,454.45L380.83,453.89L381.86,453.37L382.91,452.89L383.98,452.44L385.08,452.04L386.19,451.66L387.32,451.33L388.47,451.02L389.64,450.75L390.81,450.51L392,450.3L393.2,450.11L394.41,449.96L395.62,449.83L396.84,449.73L398.06,449.65L399.29,449.6L400.52,449.57L401.74,449.56L402.97,449.57L404.2,449.61L405.42,449.66L406.64,449.74L407.86,449.84L409.08,449.96L410.3,450.1L411.51,450.27L412.71,450.45L413.92,450.66L415.12,450.89L416.31,451.13L417.5,451.4L418.68,451.69L419.86,452L421.03,452.33L422.2,452.68L423.35,453.05L424.5,453.45L425.64,453.86L426.78,454.29L427.9,454.74L429.02,455.21L430.12,455.7L431.22,456.22L432.3,456.75L433.38,457.29L434.44,457.86L435.49,458.45L436.54,459.05L437.57,459.68L438.59,460.32L439.6,460.98L440.59,461.65L441.58,462.34L442.55,463.05L443.51,463.78L444.46,464.52L445.39,465.27L446.32,466.05L447.23,466.83L448.12,467.64L449.01,468.45L449.88,469.28L450.73,470.13L451.57,470.99L452.4,471.86L453.21,472.75L454.01,473.64L454.8,474.56L455.57,475.48L456.32,476.42L457.06,477.36L457.78,478.32L458.49,479.29L459.18,480.27L459.85,481.26L460.51,482.27L461.16,483.28L461.78,484.3L462.39,485.33L462.98,486.37L463.56,487.42L464.12,488.48L464.66,489.55L465.18,490.63L465.68,491.71L466.17,492.8L466.63,493.9L467.08,495L467.51,496.11L467.92,497.23L468.32,498.36L468.69,499.49L469.05,500.62L469.4,501.76L469.74,502.91L470.06,504.06L470.37,505.22L470.67,506.37L470.97,507.54L471.26,508.7L471.55,509.87L471.83,511.04L472.11,512.21L472.39,513.39L472.67,514.57L472.96,515.75L473.25,516.93L473.54,518.11L473.84,519.29L474.15,520.47L474.47,521.65L474.79,522.83L475.13,524.01L475.49,525.18L475.85,526.36L476.24,527.53L476.64,528.71L477.06,529.88L477.49,531.04L477.94,532.21L478.39,533.37L478.85,534.53L479.32,535.69L479.79,536.85L480.26,538.01L480.73,539.16L481.19,540.31L481.64,541.46L482.08,542.61L482.51,543.76L482.93,544.9L483.32,546.04L483.7,547.19L484.05,548.33L484.38,549.47L484.68,550.6L484.95,551.74L485.18,552.88L485.38,554.01L485.54,555.14L485.66,556.28L485.74,557.41L485.77,558.54L485.76,559.67L485.69,560.8L485.57,561.93L485.4,563.05L485.16,564.18L484.88,565.3L484.53,566.42L484.12,567.53L483.65,568.64L483.11,569.74L482.51,570.84L481.85,571.92L481.11,573L480.32,574.07L479.47,575.1L478.57,576.09L477.65,577.01L476.71,577.86L475.76,578.62L474.81,579.27L473.87,579.78L472.96,580.13L472.07,580.27L471.23,580.17L470.43,579.8L469.7,579.12L469.04,578.1L468.45,576.71L467.95,574.91L467.77,575.14L467.37,573.98L466.97,572.83L466.57,571.67L466.17,570.52L465.78,569.36L465.38,568.22L464.98,567.07L464.58,565.92L464.19,564.78L463.79,563.63L463.39,562.49L463,561.35L462.61,560.21L462.21,559.07L461.82,557.94L461.43,556.8L461.04,555.66L460.66,554.53L460.27,553.39L459.89,552.25L459.51,551.12L459.13,549.98L458.75,548.85L458.37,547.71L458,546.58L457.63,545.44L457.26,544.3L456.9,543.16L456.54,542.02L456.18,540.88L455.82,539.74L455.47,538.6L455.12,537.46L454.77,536.31L454.43,535.16L454.09,534.01L453.76,532.86L453.43,531.71L453.1,530.56L452.78,529.4L452.46,528.24L452.14,527.08L451.83,525.92L451.53,524.75L451.23,523.58L450.93,522.41L450.64,521.23L450.36,520.05L450.08,518.87L449.8,517.68L449.53,516.49L449.27,515.3L449.01,514.1L448.76,512.9L448.51,511.7L448.27,510.5L448.03,509.29L447.78,508.08L447.54,506.87L447.3,505.66L447.06,504.45L446.81,503.25L446.55,502.04L446.29,500.84L446.02,499.65L445.75,498.46L445.46,497.27L445.16,496.09L444.85,494.92L444.53,493.75L444.19,492.6L443.84,491.45L443.47,490.31L443.08,489.18L442.67,488.07L442.24,486.96L441.79,485.87L441.32,484.79L440.82,483.73L440.29,482.68L439.74,481.64L439.16,480.63L438.56,479.62L437.93,478.64L437.27,477.67L436.58,476.71L435.87,475.77L435.14,474.85L434.38,473.94L433.6,473.05L432.8,472.17L431.98,471.3L431.14,470.45L430.27,469.62L429.39,468.8L428.49,467.99L427.56,467.2L426.63,466.42L425.67,465.65L424.7,464.9L423.71,464.17L422.7,463.45L421.68,462.77L420.64,462.1L419.58,461.47L418.51,460.87L417.42,460.31L416.31,459.78L415.19,459.3L414.05,458.86L412.89,458.47L411.72,458.12L410.53,457.83L409.33,457.59L408.12,457.4L406.91,457.26L405.7,457.17L404.48,457.13L403.27,457.14L402.06,457.2L400.87,457.31L399.68,457.47L398.51,457.68L397.36,457.95L396.23,458.26L395.13,458.62L394.05,459.03L392.99,459.49L391.97,460L390.96,460.55L389.99,461.14L389.03,461.78L388.1,462.45L387.19,463.17L386.3,463.91L385.44,464.7L384.59,465.51L383.76,466.35L382.94,467.23L382.15,468.12L381.37,469.05L380.61,469.99L379.85,470.96L379.12,471.94L378.39,472.95L377.68,473.96L376.98,474.99L376.29,476.04L375.61,477.09L374.93,478.15L374.27,479.21L373.61,480.28L372.96,481.35L372.31,482.43L371.66,483.5L371.03,484.57L370.39,485.64L369.76,486.7L369.14,487.77L368.52,488.84L367.91,489.9L367.3,490.97L366.7,492.03L366.11,493.1L365.53,494.16L364.95,495.23L364.39,496.3L363.83,497.37L363.28,498.44L362.74,499.51L362.2,500.59L361.68,501.67L361.17,502.75L360.67,503.83L360.18,504.91L359.7,506L359.23,507.1L358.78,508.19L358.34,509.29L357.91,510.4L357.49,511.5L357.09,512.62L356.7,513.74L356.32,514.86L355.96,515.99L355.61,517.12L355.28,518.26L354.96,519.41L354.65,520.56L354.36,521.71L354.07,522.87L353.8,524.03L353.53,525.2L353.27,526.37L353.02,527.54L352.77,528.72L352.53,529.9L352.3,531.08L352.07,532.26L351.84,533.45L351.61,534.64L351.39,535.83L351.16,537.02L350.94,538.21L350.71,539.4L350.48,540.59L350.25,541.78L350.02,542.97L349.77,544.16L349.53,545.35L349.28,546.54L349.01,547.73L348.75,548.91L348.47,550.1L348.18,551.28L347.88,552.46L347.57,553.63L347.25,554.81L346.91,555.98L346.56,557.14L346.19,558.3L345.81,559.46L345.41,560.62L345,561.77L344.56,562.91L344.11,564.05L343.63,565.18L343.14,566.31L342.62,567.43L342.08,568.55L341.51,569.66L340.92,570.76L340.31,571.86L339.67,572.95L339,574.03L338.3,575.08L337.58,576.07L336.84,576.96L336.08,577.7L335.29,578.24L334.49,578.55L333.67,578.59L332.84,578.31L332.01,577.68L331.18,576.77L330.41,575.7L329.72,574.58L329.11,573.44L328.57,572.29L328.08,571.12L327.64,569.95L327.24,568.77L326.86,567.6L326.49,566.42L326.13,565.26L325.76,564.11L325.39,562.97L325.01,561.83L324.62,560.71L324.24,559.59L323.85,558.48L323.46,557.37L323.08,556.27L322.7,555.16L322.32,554.06L321.94,552.96L321.57,551.86L321.21,550.75L320.85,549.64L320.51,548.53L320.17,547.41L319.85,546.28L319.54,545.14L319.24,544L318.96,542.84L318.69,541.67L318.44,540.49L318.21,539.29L318,538.08L317.81,536.85L317.63,535.61L317.48,534.35L317.33,533.09L317.2,531.82L317.07,530.54L316.96,529.25L316.85,527.96L316.74,526.68L316.64,525.39L316.53,524.1L316.43,522.82L316.32,521.55L316.2,520.29L316.07,519.03L315.94,517.79L315.79,516.56L315.63,515.35L315.45,514.16L315.26,512.98L315.04,511.83L314.8,510.7L314.54,509.6L314.25,508.52L313.94,507.47L313.59,506.46L313.21,505.47L312.8,504.52L312.35,503.61L311.87,502.74L311.34,502.04L310.79,501.87L310.22,502.26L309.66,503.07L309.15,504.18L308.7,505.48L308.34,506.84L308.08,508.17L307.92,509.44L307.83,510.69L307.8,511.91L307.8,513.14L307.8,514.37L307.8,515.64L307.76,516.95L307.67,518.32L307.5,519.76L307.25,521.18L306.92,522.43L306.5,523.37L306,523.85L305.42,523.72L304.75,522.84L304,521.05Z" fill="#dddde1" stroke="#a4a4a8" stroke-width="0.7"/>
<path d="M304.6,502.99L305.23,501.87L305.68,500.72L305.96,499.56L306.1,498.38L306.13,497.2L306.07,496L305.95,494.79L305.79,493.57L305.61,492.35L305.45,491.12L305.31,489.89L305.24,488.66L305.24,487.43L305.36,486.2L305.6,484.97L306,483.75L306.58,482.53L307.37,481.32L308.32,480.18L309.35,479.24L310.35,478.61L311.25,478.4L312.05,478.55L312.75,479.02L313.39,479.74L313.95,480.65L314.47,481.7L314.95,482.83L315.4,483.98L315.82,485.13L316.22,486.29L316.6,487.45L316.96,488.61L317.3,489.78L317.62,490.96L317.92,492.13L318.21,493.31L318.48,494.5L318.74,495.68L318.98,496.87L319.2,498.06L319.42,499.25L319.62,500.45L319.82,501.65L320,502.84L320.18,504.04L320.35,505.24L320.51,506.44L320.67,507.64L320.82,508.84L320.97,510.04L321.12,511.25L321.27,512.45L321.41,513.65L321.56,514.84L321.7,516.04L321.85,517.24L322,518.43L322.16,519.63L322.32,520.82L322.49,522.01L322.67,523.19L322.85,524.38L323.04,525.56L323.25,526.74L323.46,527.91L323.68,529.08L323.92,530.25L324.17,531.41L324.44,532.57L324.71,533.73L324.98,534.89L325.27,536.06L325.55,537.22L325.83,538.4L326.11,539.57L326.39,540.76L326.65,541.96L326.91,543.16L327.16,544.38L327.39,545.62L327.6,546.86L327.8,548.13L327.97,549.41L328.13,550.72L328.25,552.04L328.35,553.33L328.45,554.43L328.54,555.19L328.64,555.45L328.76,555.14L328.89,554.35L329.03,553.21L329.16,551.82L329.29,550.29L329.4,548.74L329.49,547.27L329.57,545.88L329.63,544.57L329.69,543.32L329.75,542.13L329.82,540.97L329.9,539.83L329.99,538.71L330.11,537.6L330.25,536.47L330.43,535.32L330.64,534.15L330.88,532.96L331.14,531.76L331.43,530.55L331.72,529.33L332.03,528.12L332.34,526.92L332.66,525.73L332.98,524.54L333.31,523.36L333.64,522.19L333.98,521.03L334.32,519.87L334.66,518.72L335.01,517.58L335.36,516.44L335.71,515.3L336.07,514.17L336.43,513.05L336.79,511.92L337.16,510.8L337.53,509.69L337.9,508.57L338.27,507.46L338.65,506.35L339.03,505.23L339.41,504.12L339.79,503.01L340.18,501.9L340.57,500.79L340.96,499.68L341.35,498.57L341.74,497.45L342.13,496.33L342.53,495.21L342.92,494.08L343.32,492.95L343.72,491.82L344.12,490.68L344.51,489.54L344.91,488.39L345.31,487.24L345.71,486.08L346.11,484.91L346.51,483.74L346.91,482.56L347.32,481.37L347.73,480.19L348.15,479L348.57,477.82L349.01,476.64L349.46,475.47L349.92,474.31L350.4,473.16L350.9,472.02L351.42,470.89L351.96,469.78L352.52,468.69L353.11,467.62L353.72,466.57L354.37,465.55L355.04,464.56L355.75,463.59L356.5,462.65L357.27,461.75L358.08,460.87L358.92,460.03L359.79,459.21L360.69,458.43L361.61,457.68L362.57,456.96L363.54,456.28L364.54,455.62L365.56,455L366.61,454.41L367.67,453.85L368.75,453.33L369.85,452.83L370.96,452.37L372.09,451.95L373.23,451.55L374.38,451.19L375.55,450.86L376.72,450.56L377.9,450.3L379.09,450.07L380.29,449.88L381.48,449.72L382.68,449.59L383.89,449.5L385.09,449.44L386.29,449.41L387.49,449.42L388.69,449.47L389.88,449.55L391.07,449.66L392.25,449.81L393.42,449.99L394.58,450.21L395.73,450.46L396.87,450.75L398,451.08L399.11,451.44L400.2,451.84L401.28,452.27L402.33,452.74L403.37,453.24L404.39,453.78L405.38,454.36L406.35,454.97L407.31,455.62L408.24,456.3L409.14,457.01L410.03,457.75L410.9,458.52L411.75,459.32L412.58,460.15L413.39,461.01L414.19,461.89L414.96,462.79L415.72,463.72L416.46,464.68L417.18,465.65L417.89,466.64L418.58,467.66L419.25,468.69L419.91,469.73L420.56,470.8L421.19,471.88L421.81,472.97L422.41,474.08L423,475.2L423.58,476.32L424.14,477.46L424.69,478.61L425.24,479.76L425.77,480.93L426.28,482.09L426.79,483.26L427.29,484.44L427.78,485.61L428.26,486.79L428.73,487.97L429.19,489.15L429.64,490.32L430.09,491.49L430.53,492.66L430.96,493.82L431.39,494.98L431.81,496.13L432.22,497.27L432.63,498.41L433.03,499.55L433.43,500.68L433.82,501.8L434.21,502.92L434.59,504.04L434.97,505.15L435.35,506.26L435.72,507.37L436.09,508.48L436.46,509.58L436.82,510.68L437.19,511.78L437.55,512.88L437.91,513.98L438.27,515.08L438.62,516.17L438.98,517.27L439.34,518.37L439.7,519.46L440.05,520.56L440.41,521.66L440.77,522.76L441.13,523.87L441.49,524.97L441.86,526.08L442.22,527.19L442.59,528.31L442.96,529.43L443.34,530.55L443.72,531.67L444.1,532.8L444.48,533.94L444.87,535.08L445.27,536.23L445.67,537.38L446.07,538.53L446.47,539.7L446.87,540.87L447.27,542.04L447.66,543.22L448.04,544.4L448.41,545.58L448.76,546.77L449.1,547.97L449.41,549.16L449.71,550.36L449.98,551.57L450.22,552.77L450.43,553.98L450.6,555.19L450.75,556.4L450.85,557.61L450.91,558.82L450.93,560.04L450.91,561.25L450.83,562.47L450.7,563.68L450.52,564.9L450.29,566.12L449.99,567.33L449.64,568.54L449.22,569.74L448.75,570.91L448.22,572.04L447.64,573.13L447,574.16L446.3,575.12L445.56,576L444.77,576.78L443.92,577.46L443.03,578.03L442.1,578.47L441.11,578.78L440.09,578.93L439.02,578.93L437.92,578.75L436.77,578.39L435.58,577.84L434.36,577.09L433.1,576.12L430.23,569.94L429.87,568.81L429.51,567.68L429.16,566.54L428.81,565.4L428.48,564.25L428.14,563.11L427.82,561.96L427.5,560.8L427.19,559.65L426.88,558.49L426.57,557.32L426.27,556.16L425.98,554.99L425.69,553.82L425.4,552.65L425.12,551.48L424.84,550.3L424.57,549.12L424.3,547.95L424.03,546.76L423.76,545.58L423.5,544.4L423.24,543.21L422.98,542.03L422.72,540.84L422.47,539.66L422.21,538.47L421.96,537.28L421.71,536.09L421.46,534.9L421.21,533.71L420.96,532.52L420.71,531.34L420.46,530.15L420.21,528.96L419.96,527.77L419.71,526.58L419.45,525.4L419.2,524.21L418.94,523.03L418.69,521.84L418.43,520.66L418.17,519.48L417.9,518.3L417.64,517.13L417.37,515.95L417.1,514.78L416.82,513.61L416.54,512.44L416.26,511.27L415.97,510.11L415.68,508.94L415.39,507.78L415.09,506.63L414.78,505.47L414.47,504.32L414.16,503.18L413.83,502.03L413.51,500.89L413.18,499.76L412.84,498.62L412.49,497.49L412.14,496.37L411.79,495.24L411.42,494.12L411.06,492.99L410.69,491.86L410.31,490.74L409.94,489.61L409.56,488.47L409.17,487.34L408.78,486.2L408.39,485.05L408,483.9L407.61,482.74L407.21,481.57L406.82,480.39L406.42,479.21L406.02,478.02L405.61,476.83L405.19,475.64L404.76,474.46L404.31,473.28L403.84,472.12L403.35,470.97L402.84,469.85L402.3,468.75L401.73,467.67L401.12,466.63L400.48,465.62L399.8,464.64L399.08,463.71L398.31,462.82L397.5,461.98L396.63,461.2L395.71,460.47L394.73,459.79L393.69,459.18L392.59,458.64L391.43,458.17L390.24,457.78L389.02,457.48L387.81,457.28L386.61,457.18L385.44,457.2L384.31,457.33L383.2,457.56L382.12,457.88L381.07,458.29L380.05,458.78L379.06,459.35L378.09,459.99L377.14,460.69L376.22,461.45L375.33,462.25L374.45,463.11L373.6,464L372.77,464.92L371.96,465.87L371.16,466.83L370.39,467.81L369.63,468.8L368.89,469.8L368.16,470.8L367.45,471.81L366.76,472.83L366.08,473.85L365.42,474.88L364.77,475.92L364.14,476.96L363.52,478.01L362.91,479.06L362.31,480.12L361.73,481.19L361.16,482.26L360.6,483.33L360.06,484.41L359.52,485.49L358.99,486.58L358.48,487.67L357.97,488.77L357.47,489.87L356.98,490.97L356.5,492.07L356.03,493.18L355.56,494.29L355.1,495.41L354.65,496.52L354.21,497.64L353.77,498.76L353.33,499.88L352.91,501.01L352.48,502.13L352.06,503.25L351.65,504.38L351.23,505.51L350.82,506.64L350.42,507.76L350.01,508.89L349.61,510.02L349.21,511.15L348.8,512.27L348.4,513.4L348,514.52L347.6,515.65L347.2,516.77L346.8,517.89L346.4,519.01L345.99,520.13L345.59,521.24L345.18,522.36L344.77,523.48L344.36,524.59L343.95,525.71L343.54,526.82L343.13,527.93L342.71,529.05L342.29,530.16L341.87,531.28L341.45,532.39L341.03,533.51L340.6,534.63L340.18,535.75L339.75,536.87L339.32,537.99L338.88,539.11L338.44,540.23L338.01,541.36L337.56,542.49L337.12,543.61L336.67,544.75L336.22,545.88L335.77,547.02L335.31,548.16L334.85,549.3L334.39,550.45L333.93,551.59L333.46,552.75L332.99,553.9L332.51,555.06L332.03,556.23L331.55,557.39L331.07,558.56L330.58,559.74L330.08,560.92L329.58,562.09L329.06,563.18L328.49,564.11L327.85,564.78L327.12,565.1L326.28,565L325.37,564.52L324.5,563.81L323.73,563L323.06,562.1L322.48,561.11L321.99,560.06L321.58,558.94L321.23,557.78L320.94,556.56L320.7,555.31L320.5,554.03L320.34,552.74L320.2,551.43L320.07,550.12L319.95,548.81L319.83,547.52L319.7,546.25L319.55,545.01L319.38,543.8L319.19,542.61L318.99,541.45L318.78,540.31L318.57,539.18L318.34,538.06L318.11,536.95L317.88,535.84L317.64,534.74L317.41,533.63L317.19,532.52L316.97,531.39L316.76,530.26L316.56,529.11L316.37,527.94L316.2,526.74L316.05,525.52L315.91,524.27L315.8,523L315.69,521.7L315.6,520.39L315.5,519.07L315.41,517.75L315.31,516.44L315.2,515.13L315.08,513.84L314.95,512.57L314.79,511.32L314.6,510.1L314.38,508.93L314.13,507.79L313.84,506.71L313.5,505.68L313.12,504.71L312.69,503.81L312.19,502.98L311.64,502.25L311.06,501.88L310.46,502.05L309.87,502.69L309.33,503.68L308.84,504.92L308.44,506.3L308.14,507.71L307.95,509.1L307.85,510.47L307.81,511.8L307.82,513.1L307.84,514.37L307.87,515.59L307.88,516.78L307.85,517.93L307.75,519.03L307.56,520.09L307.26,521.1L306.84,522.05L306.26,522.96L305.51,523.81Z" fill="#546b97" stroke="#3e5382" stroke-width="0.7" fill-opacity="0.7" stroke-opacity="0.6"/>
<path d="M303.43,518.67L304.15,517.86L304.99,517L305.94,516.13L306.96,515.28L308.04,514.51L309.15,513.83L310.27,513.3L311.38,512.94L312.45,512.8L313.45,512.9L314.39,513.25L315.27,513.81L316.08,514.55L316.84,515.44L317.54,516.43L318.19,517.5L318.78,518.62L319.34,519.75L319.85,520.88L320.32,522.01L320.75,523.15L321.15,524.3L321.52,525.45L321.86,526.61L322.18,527.76L322.48,528.93L322.76,530.09L323.02,531.26L323.27,532.43L323.52,533.61L323.76,534.78L324,535.96L324.24,537.14L324.48,538.32L324.73,539.51L324.99,540.7L325.26,541.88L325.55,543.07L325.86,544.26L326.2,545.45L326.56,546.64L326.95,547.83L327.37,549.01L327.82,550.2L328.32,551.39L328.85,552.57L329.43,553.68L330.05,554.65L330.7,555.42L331.38,555.93L332.1,556.09L332.85,555.88L333.61,555.36L334.36,554.66L335.09,553.87L335.78,553.02L336.44,552.11L337.08,551.14L337.69,550.13L338.28,549.07L338.85,547.98L339.4,546.86L339.93,545.71L340.45,544.54L340.96,543.36L341.46,542.16L341.94,540.96L342.42,539.77L342.9,538.58L343.37,537.4L343.84,536.22L344.3,535.06L344.77,533.91L345.23,532.76L345.68,531.63L346.14,530.49L346.59,529.37L347.04,528.25L347.49,527.14L347.94,526.03L348.39,524.93L348.84,523.83L349.29,522.74L349.73,521.65L350.18,520.56L350.63,519.47L351.07,518.39L351.52,517.31L351.97,516.23L352.42,515.14L352.87,514.06L353.33,512.98L353.78,511.9L354.24,510.81L354.7,509.73L355.17,508.64L355.63,507.55L356.1,506.45L356.57,505.35L357.05,504.25L357.53,503.14L358.01,502.03L358.5,500.91L359,499.79L359.5,498.67L360.01,497.55L360.52,496.42L361.05,495.3L361.58,494.19L362.13,493.07L362.69,491.97L363.26,490.87L363.85,489.78L364.44,488.7L365.06,487.63L365.69,486.57L366.34,485.52L367,484.49L367.68,483.48L368.39,482.48L369.11,481.5L369.85,480.55L370.62,479.61L371.41,478.69L372.22,477.8L373.06,476.94L373.92,476.09L374.8,475.28L375.7,474.48L376.62,473.72L377.57,472.98L378.53,472.26L379.51,471.57L380.51,470.91L381.52,470.28L382.55,469.67L383.6,469.09L384.66,468.54L385.73,468.01L386.82,467.52L387.92,467.05L389.03,466.61L390.15,466.2L391.28,465.82L392.42,465.47L393.57,465.15L394.73,464.86L395.89,464.6L397.06,464.37L398.23,464.17L399.41,464.01L400.59,463.87L401.78,463.77L402.97,463.7L404.15,463.67L405.34,463.66L406.53,463.69L407.72,463.75L408.91,463.84L410.1,463.96L411.28,464.11L412.47,464.29L413.65,464.5L414.83,464.73L416.01,465L417.18,465.28L418.35,465.6L419.52,465.93L420.68,466.29L421.84,466.68L422.99,467.08L424.14,467.51L425.28,467.96L426.42,468.42L427.55,468.91L428.67,469.42L429.79,469.94L430.89,470.48L431.99,471.04L433.09,471.61L434.17,472.2L435.25,472.8L436.31,473.41L437.37,474.04L438.41,474.68L439.45,475.33L440.47,475.99L441.49,476.67L442.49,477.35L443.48,478.06L444.46,478.77L445.42,479.49L446.37,480.23L447.31,480.99L448.24,481.75L449.15,482.53L450.05,483.32L450.93,484.12L451.79,484.94L452.64,485.77L453.48,486.62L454.29,487.47L455.1,488.34L455.88,489.23L456.65,490.13L457.39,491.04L458.12,491.97L458.83,492.91L459.53,493.86L460.2,494.83L460.85,495.81L461.48,496.81L462.1,497.82L462.69,498.84L463.27,499.88L463.82,500.93L464.36,501.99L464.89,503.06L465.4,504.15L465.89,505.24L466.37,506.34L466.84,507.45L467.29,508.57L467.74,509.7L468.17,510.83L468.59,511.97L469,513.12L469.41,514.27L469.81,515.43L470.19,516.59L470.58,517.76L470.96,518.93L471.33,520.1L471.7,521.28L472.06,522.45L472.42,523.63L472.78,524.81L473.14,525.99L473.5,527.16L473.86,528.34L474.22,529.51L474.58,530.69L474.95,531.86L475.32,533.02L475.69,534.18L476.07,535.34L476.45,536.49L476.84,537.64L477.24,538.78L477.64,539.91L478.06,541.04L478.48,542.16L478.91,543.27L479.36,544.37L479.81,545.46L480.28,546.55L480.76,547.62L481.26,548.68L481.77,549.73L482.3,550.76L482.84,551.78" fill="none" stroke="#62ab3a" stroke-width="1.3"/>
<path d="M315.45,498.46L316.49,499.17L317.42,499.95L318.27,500.78L319.02,501.68L319.69,502.62L320.28,503.61L320.81,504.65L321.27,505.72L321.67,506.83L322.02,507.96L322.33,509.12L322.6,510.31L322.84,511.51L323.05,512.72L323.24,513.94L323.43,515.16L323.6,516.39L323.78,517.6L323.95,518.82L324.13,520.02L324.31,521.22L324.49,522.42L324.68,523.61L324.86,524.79L325.05,525.98L325.24,527.16L325.43,528.33L325.62,529.51L325.81,530.68L326,531.85L326.19,533.02L326.39,534.19L326.58,535.36L326.78,536.53L326.97,537.7L327.17,538.87L327.37,540.04L327.57,541.22L327.76,542.39L327.96,543.57L328.16,544.75L328.36,545.94L328.56,547.13L328.75,548.33L328.95,549.53L329.15,550.73L329.35,551.94L329.55,553.16L329.74,554.38L329.94,555.61L330.13,556.85L330.33,558.09L330.52,559.35L330.72,560.61L330.91,561.88L331.12,563.15L331.37,564.4L331.68,565.63L332.07,566.81L332.55,567.94L333.14,568.96L333.81,569.79L334.56,570.3L335.34,570.39L336.15,570.05L336.92,569.45L337.63,568.74L338.28,567.95L338.87,567.08L339.4,566.15L339.89,565.15L340.33,564.1L340.73,563L341.1,561.85L341.44,560.67L341.76,559.46L342.06,558.24L342.35,556.99L342.63,555.74L342.91,554.49L343.18,553.24L343.47,552L343.75,550.76L344.04,549.53L344.32,548.3L344.62,547.08L344.91,545.87L345.21,544.66L345.51,543.45L345.81,542.25L346.12,541.06L346.43,539.86L346.74,538.68L347.06,537.49L347.38,536.32L347.7,535.14L348.03,533.97L348.36,532.81L348.69,531.64L349.03,530.48L349.37,529.33L349.71,528.18L350.06,527.03L350.41,525.88L350.76,524.74L351.12,523.6L351.49,522.46L351.85,521.33L352.22,520.2L352.6,519.07L352.98,517.94L353.36,516.82L353.75,515.7L354.14,514.58L354.54,513.46L354.94,512.35L355.34,511.23L355.75,510.12L356.16,509.01L356.58,507.9L357,506.79L357.43,505.68L357.86,504.58L358.3,503.47L358.74,502.37L359.19,501.27L359.64,500.16L360.1,499.06L360.56,497.96L361.02,496.86L361.5,495.76L361.97,494.66L362.46,493.55L362.94,492.45L363.44,491.35L363.93,490.25L364.44,489.15L364.95,488.04L365.46,486.94L365.98,485.83L366.51,484.73L367.05,483.63L367.59,482.53L368.15,481.44L368.71,480.35L369.29,479.27L369.88,478.2L370.49,477.14L371.11,476.09L371.75,475.05L372.4,474.02L373.07,473.01L373.77,472.01L374.48,471.03L375.21,470.07L375.96,469.13L376.74,468.21L377.55,467.31L378.37,466.43L379.23,465.58L380.11,464.75L381.02,463.95L381.96,463.18L382.93,462.43L383.92,461.73L384.94,461.06L385.98,460.43L387.05,459.85L388.13,459.32L389.23,458.84L390.34,458.43L391.46,458.08L392.59,457.8L393.73,457.59L394.87,457.45L396.02,457.39L397.17,457.38L398.33,457.44L399.49,457.55L400.65,457.72L401.82,457.93L402.99,458.18L404.16,458.48L405.33,458.81L406.51,459.17L407.68,459.55L408.86,459.96L410.04,460.38L411.22,460.82L412.39,461.28L413.57,461.74L414.73,462.23L415.89,462.73L417.03,463.25L418.16,463.79L419.27,464.35L420.37,464.93L421.44,465.53L422.49,466.15L423.51,466.8L424.5,467.48L425.47,468.17L426.41,468.89L427.33,469.64L428.23,470.4L429.1,471.19L429.95,471.99L430.77,472.82L431.58,473.66L432.36,474.52L433.12,475.41L433.86,476.3L434.58,477.22L435.29,478.15L435.97,479.1L436.63,480.07L437.28,481.05L437.91,482.04L438.53,483.05L439.13,484.07L439.71,485.1L440.28,486.15L440.83,487.2L441.37,488.27L441.9,489.35L442.42,490.43L442.92,491.53L443.41,492.63L443.89,493.75L444.36,494.87L444.82,496L445.27,497.13L445.71,498.27L446.15,499.41L446.57,500.56L446.99,501.72L447.4,502.87L447.81,504.03L448.21,505.2L448.61,506.36L449,507.52L449.39,508.69L449.77,509.86L450.15,511.02L450.53,512.19L450.91,513.35L451.29,514.51L451.66,515.67L452.04,516.83L452.41,517.98L452.79,519.13L453.16,520.28L453.53,521.43L453.9,522.58L454.27,523.72L454.64,524.86L455.01,526L455.38,527.14L455.75,528.28L456.12,529.42L456.48,530.56L456.85,531.7L457.21,532.83L457.58,533.97L457.94,535.1L458.3,536.24L458.66,537.38L459.02,538.51L459.38,539.65L459.74,540.78L460.1,541.92L460.46,543.06L460.81,544.19L461.17,545.33L461.52,546.47L461.87,547.61L462.23,548.75L462.58,549.89L462.93,551.04L463.28,552.18L463.63,553.33L463.98,554.48L464.32,555.63L464.67,556.79L465.01,557.94L465.36,559.1L465.7,560.26L466.04,561.42L466.38,562.59L466.72,563.76L467.06,564.93L467.4,566.11L467.74,567.28L468.07,568.46L468.41,569.65L468.74,570.84" fill="none" stroke="#b00a32" stroke-width="1.35"/>
</svg>
<svg width="520" height="642" viewBox="0 0 520 642" font-family='"Liberation Sans", sans-serif' style="position:absolute;left:0;top:0;will-change:transform">
<text x="7.9" y="18.6" font-size="12" font-weight="bold" fill="#111" stroke="#111" stroke-width="0.4">A</text>
<text x="20.8" y="34.2" font-size="10.4" font-style="italic" textLength="36.4" lengthAdjust="spacingAndGlyphs" fill="#111" stroke="#111" stroke-width="0.22">KCNN4</text>
<text x="20.75" y="50" font-size="10.4" textLength="63" lengthAdjust="spacingAndGlyphs" fill="#111" stroke="#111" stroke-width="0.22">Chr 19q13.31</text>
<text x="283.5" y="46.6" font-size="10.9" font-weight="bold" textLength="46.8" lengthAdjust="spacingAndGlyphs" fill="#111" stroke="#111" stroke-width="0.18">V282E/M</text>
<text x="334.2" y="34.6" font-size="10.9" font-weight="bold" textLength="32.1" lengthAdjust="spacingAndGlyphs" fill="#111" stroke="#111" stroke-width="0.18">S314P</text>
<text x="369.8" y="46.7" font-size="10.9" font-weight="bold" textLength="32.5" lengthAdjust="spacingAndGlyphs" fill="#111" stroke="#111" stroke-width="0.18">R352H</text>
<text x="68.8" y="109.3" font-size="10" font-weight="bold" fill="#111" stroke="#111" stroke-width="0.18">1</text>
<text x="158" y="109.3" font-size="10" font-weight="bold" fill="#111" stroke="#111" stroke-width="0.18">2</text>
<text x="214" y="109.3" font-size="10" font-weight="bold" fill="#111" stroke="#111" stroke-width="0.18">3</text>
<text x="270.4" y="109.3" font-size="10" font-weight="bold" fill="#111" stroke="#111" stroke-width="0.18">4</text>
<text x="322.8" y="109.3" font-size="10" font-weight="bold" fill="#111" stroke="#111" stroke-width="0.18">5</text>
<text x="340" y="109.3" font-size="10" font-weight="bold" fill="#111" stroke="#111" stroke-width="0.18">6</text>
<text x="360.9" y="109.3" font-size="10" font-weight="bold" fill="#111" stroke="#111" stroke-width="0.18">7</text>
<text x="417.3" y="109.3" font-size="10" font-weight="bold" fill="#111" stroke="#111" stroke-width="0.18">8</text>
<text x="451" y="109.3" font-size="10" font-weight="bold" fill="#111" stroke="#111" stroke-width="0.18">9</text>
<text x="20.4" y="110.6" font-size="10.2" textLength="25.6" lengthAdjust="spacingAndGlyphs" fill="#111" stroke="#111" stroke-width="0.22">exons</text>
<text x="20.4" y="125.7" font-size="10.2" fill="#111" stroke="#111" stroke-width="0.22">aa</text>
<text x="65.5" y="125.7" font-size="10.4" textLength="20" lengthAdjust="spacingAndGlyphs" fill="#111" stroke="#111" stroke-width="0.22">1-53</text>
<text x="148" y="125.7" font-size="10.4" textLength="11.6" lengthAdjust="spacingAndGlyphs" fill="#111" stroke="#111" stroke-width="0.22">54</text>
<text x="201.2" y="125.7" font-size="10.4" textLength="11.6" lengthAdjust="spacingAndGlyphs" fill="#111" stroke="#111" stroke-width="0.22">86</text>
<text x="262.8" y="125.7" font-size="10.4" textLength="18" lengthAdjust="spacingAndGlyphs" fill="#111" stroke="#111" stroke-width="0.22">228</text>
<text x="310.8" y="125.7" font-size="10.4" textLength="17.6" lengthAdjust="spacingAndGlyphs" fill="#111" stroke="#111" stroke-width="0.22">274</text>
<text x="330.2" y="125.7" font-size="10.4" textLength="18" lengthAdjust="spacingAndGlyphs" fill="#111" stroke="#111" stroke-width="0.22">310</text>
<text x="351.2" y="125.7" font-size="10.4" textLength="18" lengthAdjust="spacingAndGlyphs" fill="#111" stroke="#111" stroke-width="0.22">350</text>
<text x="400" y="125.7" font-size="10.4" textLength="36.5" lengthAdjust="spacingAndGlyphs" fill="#111" stroke="#111" stroke-width="0.22">374-427</text>
<text x="125.3" y="141.8" font-size="10.3" font-weight="bold" textLength="15.1" lengthAdjust="spacingAndGlyphs" fill="#111" stroke="#111" stroke-width="0.18">SK</text>
<text x="269" y="141.6" font-size="10.3" font-weight="bold" textLength="23.4" lengthAdjust="spacingAndGlyphs" fill="#111" stroke="#111" stroke-width="0.18">Pore</text>
<text x="356" y="141.8" font-size="10.3" font-weight="bold" textLength="38.4" lengthAdjust="spacingAndGlyphs" fill="#111" stroke="#111" stroke-width="0.18">CaMBD</text>
<text x="20.4" y="163.9" font-size="10.4" fill="#111" stroke="#111" stroke-width="0.22">aa 12-122</text>
<text x="93.2" y="163.9" font-size="10.4" fill="#111" stroke="#111" stroke-width="0.22">SK</text>
<text x="164.3" y="163.9" font-size="10.4" textLength="167.8" lengthAdjust="spacingAndGlyphs" fill="#111" stroke="#111" stroke-width="0.22">Potassium channel, calcium-activated</text>
<text x="20.4" y="176.2" font-size="10.4" fill="#111" stroke="#111" stroke-width="0.22">aa 231-289</text>
<text x="93.2" y="176.2" font-size="10.4" fill="#111" stroke="#111" stroke-width="0.22">Pore</text>
<text x="164.3" y="176.2" font-size="10.4" textLength="200.5" lengthAdjust="spacingAndGlyphs" fill="#111" stroke="#111" stroke-width="0.22">Two pore domain potassium channel domain</text>
<text x="20.4" y="188.5" font-size="10.4" fill="#111" stroke="#111" stroke-width="0.22">aa 304-377</text>
<text x="93.2" y="188.5" font-size="10.4" fill="#111" stroke="#111" stroke-width="0.22">CaMBD</text>
<text x="164.3" y="188.5" font-size="10.4" textLength="122.6" lengthAdjust="spacingAndGlyphs" fill="#111" stroke="#111" stroke-width="0.22">Calmodulin-binding domain</text>
<text x="8.1" y="219.6" font-size="11.8" font-weight="bold" fill="#111" stroke="#111" stroke-width="0.4">B</text>
<text x="27.4" y="219.6" font-size="11.8" font-weight="bold" fill="#111" stroke="#111" stroke-width="0.4">i</text>
<text x="224.8" y="219.4" font-size="11.8" font-weight="bold" fill="#111" stroke="#111" stroke-width="0.4">ii</text>
<text x="96.7" y="341" font-size="8.2" textLength="18.5" lengthAdjust="spacingAndGlyphs" fill="#111" stroke="#111" stroke-width="0.14">A II.1</text>
<text x="124.6" y="376" font-size="8.2" textLength="19.9" lengthAdjust="spacingAndGlyphs" fill="#111" stroke="#111" stroke-width="0.14">A III.1</text>
<text x="25.5" y="390.9" font-size="10.2" textLength="37.4" lengthAdjust="spacingAndGlyphs" fill="#111" stroke="#111" stroke-width="0.22">Family A</text>
<text x="366" y="280.8" font-size="8.2" textLength="16.5" lengthAdjust="spacingAndGlyphs" fill="#111" stroke="#111" stroke-width="0.14">B I.1</text>
<text x="292.8" y="326.3" font-size="8.2" textLength="18.7" lengthAdjust="spacingAndGlyphs" fill="#111" stroke="#111" stroke-width="0.14">B II.1</text>
<text x="428" y="326.2" font-size="8.2" textLength="19.9" lengthAdjust="spacingAndGlyphs" fill="#111" stroke="#111" stroke-width="0.14">B II.2</text>
<text x="423.1" y="378" font-size="8.2" textLength="20.3" lengthAdjust="spacingAndGlyphs" fill="#111" stroke="#111" stroke-width="0.14">B III.1</text>
<text x="490.4" y="378" font-size="8.2" textLength="21.6" lengthAdjust="spacingAndGlyphs" fill="#111" stroke="#111" stroke-width="0.14">B III.2</text>
<text x="224.7" y="391.3" font-size="10.2" textLength="37.3" lengthAdjust="spacingAndGlyphs" fill="#111" stroke="#111" stroke-width="0.22">Family B</text>
<text x="7.9" y="421.5" font-size="11.8" font-weight="bold" fill="#111" stroke="#111" stroke-width="0.4">C</text>
<text x="27.8" y="421.5" font-size="11.8" font-weight="bold" fill="#111" stroke="#111" stroke-width="0.4">i</text>
<text x="269.8" y="421.2" font-size="11.8" font-weight="bold" fill="#111" stroke="#111" stroke-width="0.4">ii</text>
<text x="52.6" y="605.5" font-size="8.9" text-anchor="end" fill="#111" stroke="#111" stroke-width="0.06">0</text>
<text x="52.6" y="581.7" font-size="8.9" text-anchor="end" fill="#111" stroke="#111" stroke-width="0.06">0,1</text>
<text x="52.6" y="557.9" font-size="8.9" text-anchor="end" fill="#111" stroke="#111" stroke-width="0.06">0,2</text>
<text x="52.6" y="534.1" font-size="8.9" text-anchor="end" fill="#111" stroke="#111" stroke-width="0.06">0,3</text>
<text x="52.6" y="510.3" font-size="8.9" text-anchor="end" fill="#111" stroke="#111" stroke-width="0.06">0,4</text>
<text x="52.6" y="486.5" font-size="8.9" text-anchor="end" fill="#111" stroke="#111" stroke-width="0.06">0,5</text>
<text x="52.6" y="462.7" font-size="8.9" text-anchor="end" fill="#111" stroke="#111" stroke-width="0.06">0,6</text>
<text x="52.6" y="438.9" font-size="8.9" text-anchor="end" fill="#111" stroke="#111" stroke-width="0.06">0,7</text>
<text x="59.4" y="617.1" font-size="8.9" text-anchor="middle" fill="#111" stroke="#111" stroke-width="0.06">50</text>
<text x="96.62" y="617.1" font-size="8.9" text-anchor="middle" fill="#111" stroke="#111" stroke-width="0.06">150</text>
<text x="133.84" y="617.1" font-size="8.9" text-anchor="middle" fill="#111" stroke="#111" stroke-width="0.06">250</text>
<text x="171.06" y="617.1" font-size="8.9" text-anchor="middle" fill="#111" stroke="#111" stroke-width="0.06">350</text>
<text x="208.28" y="617.1" font-size="8.9" text-anchor="middle" fill="#111" stroke="#111" stroke-width="0.06">450</text>
<text x="245.5" y="617.1" font-size="8.9" text-anchor="middle" fill="#111" stroke="#111" stroke-width="0.06">550</text>
<text x="0" y="0" font-size="11.3" letter-spacing="0.95" fill="#111" stroke="#111" stroke-width="0.35" transform="translate(119.8,632.3) scale(0.56,1)">Osmolality mOsm/kg</text>
<text x="0" y="0" font-size="11" font-weight="bold" fill="#111" transform="translate(34,521) rotate(-90)" textLength="6" lengthAdjust="spacingAndGlyphs">EI</text>
<text x="296.3" y="605.8" font-size="8.9" text-anchor="end" fill="#111" stroke="#111" stroke-width="0.06">0</text>
<text x="296.3" y="581.54" font-size="8.9" text-anchor="end" fill="#111" stroke="#111" stroke-width="0.06">0,1</text>
<text x="296.3" y="557.28" font-size="8.9" text-anchor="end" fill="#111" stroke="#111" stroke-width="0.06">0,2</text>
<text x="296.3" y="533.02" font-size="8.9" text-anchor="end" fill="#111" stroke="#111" stroke-width="0.06">0,3</text>
<text x="296.3" y="508.76" font-size="8.9" text-anchor="end" fill="#111" stroke="#111" stroke-width="0.06">0,4</text>
<text x="296.3" y="484.5" font-size="8.9" text-anchor="end" fill="#111" stroke="#111" stroke-width="0.06">0,5</text>
<text x="296.3" y="460.24" font-size="8.9" text-anchor="end" fill="#111" stroke="#111" stroke-width="0.06">0,6</text>
<text x="296.3" y="435.98" font-size="8.9" text-anchor="end" fill="#111" stroke="#111" stroke-width="0.06">0,7</text>
<text x="303.3" y="617.1" font-size="8.9" text-anchor="middle" fill="#111" stroke="#111" stroke-width="0.06">50</text>
<text x="343.68" y="617.1" font-size="8.9" text-anchor="middle" fill="#111" stroke="#111" stroke-width="0.06">150</text>
<text x="384.06" y="617.1" font-size="8.9" text-anchor="middle" fill="#111" stroke="#111" stroke-width="0.06">250</text>
<text x="424.44" y="617.1" font-size="8.9" text-anchor="middle" fill="#111" stroke="#111" stroke-width="0.06">350</text>
<text x="464.82" y="617.1" font-size="8.9" text-anchor="middle" fill="#111" stroke="#111" stroke-width="0.06">450</text>
<text x="505.2" y="617.1" font-size="8.9" text-anchor="middle" fill="#111" stroke="#111" stroke-width="0.06">550</text>
<text x="0" y="0" font-size="11.3" letter-spacing="0.95" fill="#111" stroke="#111" stroke-width="0.35" transform="translate(372.1,632.3) scale(0.56,1)">Osmolality mOsm/kg</text>
<text x="0" y="0" font-size="11" font-weight="bold" fill="#111" transform="translate(278.2,518.9) rotate(-90)" textLength="6" lengthAdjust="spacingAndGlyphs">EI</text>
</svg></body></html>
